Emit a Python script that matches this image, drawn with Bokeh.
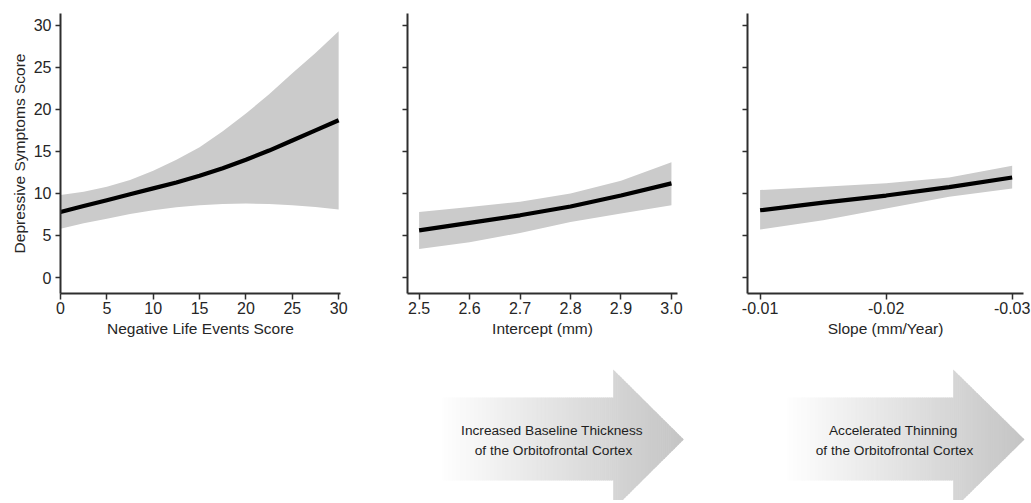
from bokeh.plotting import figure
from bokeh.layouts import column, row
from bokeh.models import Range1d, FixedTicker
from bokeh.core.properties import value
from bokeh.embed import file_html
from bokeh.resources import INLINE

# ---------------- data ----------------
life_x = [0, 2.5, 5, 7.5, 10, 12.5, 15, 17.5, 20, 22.5, 25, 27.5, 30]
life_fit = [7.8, 8.5, 9.2, 9.9, 10.6, 11.3, 12.1, 13.0, 14.0, 15.1, 16.3, 17.5, 18.7]
life_upper = [9.8, 10.2, 10.8, 11.6, 12.7, 14.0, 15.5, 17.4, 19.5, 21.8, 24.3, 26.7, 29.3]
life_lower = [5.8, 6.45, 7.0, 7.55, 8.0, 8.35, 8.6, 8.75, 8.8, 8.75, 8.6, 8.4, 8.1]

icpt_x = [2.5, 2.6, 2.7, 2.8, 2.9, 3.0]
icpt_fit = [5.6, 6.5, 7.4, 8.45, 9.75, 11.2]
icpt_upper = [7.8, 8.4, 9.0, 10.0, 11.5, 13.7]
icpt_lower = [3.4, 4.2, 5.3, 6.6, 7.6, 8.6]

slope_x = [-0.01, -0.015, -0.02, -0.025, -0.03]
slope_fit = [8.0, 8.9, 9.75, 10.75, 11.9]
slope_upper = [10.4, 10.8, 11.2, 11.9, 13.3]
slope_lower = [5.7, 6.8, 8.2, 9.6, 10.6]

y_ticks = [0, 5, 10, 15, 20, 25, 30]
life_ticks = [0, 5, 10, 15, 20, 25, 30]
icpt_ticks = [2.5, 2.6, 2.7, 2.8, 2.9, 3.0]
icpt_tick_labels = ["2.5", "2.6", "2.7", "2.8", "2.9", "3.0"]
slope_ticks = [-0.01, -0.02, -0.03]
slope_tick_labels = ["-0.01", "-0.02", "-0.03"]

y_label = "Depressive Symptoms Score"
x_labels = ["Negative Life Events Score", "Intercept (mm)", "Slope (mm/Year)"]
arrow_texts = [
    ["Increased Baseline Thickness", "of the Orbitofrontal Cortex"],
    ["Accelerated Thinning", "of the Orbitofrontal Cortex"],
]

# ---------------- styling ----------------
FONT = "Liberation Sans"
AX_COL = "#2e2e2e"
TXT_COL = "#262626"
BAND = "#cbcbcb"
Y_RANGE = (-1.9, 31.4)


def make_panel(xs, fit, up, lo, x_range, xticks, xlabels, xlabel, width,
               left, right, show_y):
    p = figure(width=width, height=348, output_backend="svg",
               toolbar_location=None, x_range=Range1d(*x_range),
               y_range=Range1d(*Y_RANGE), min_border_left=left,
               min_border_right=right, min_border_top=13, min_border_bottom=55)
    p.grid.visible = False
    p.outline_line_color = None
    p.background_fill_color = "white"
    p.border_fill_color = "white"

    p.varea(x=xs, y1=lo, y2=up, fill_color=BAND, fill_alpha=1.0)
    p.line(x=xs, y=fit, line_color="black", line_width=4.2)

    xa = p.xaxis[0]
    ya = p.yaxis[0]
    for ax in (xa, ya):
        ax.axis_line_width = 2
        ax.axis_line_color = AX_COL
        ax.major_tick_line_width = 1.5
        ax.major_tick_line_color = AX_COL
        ax.minor_tick_line_color = None
        ax.major_tick_in = 0
        ax.major_label_text_font = FONT
        ax.major_label_text_font_size = "16px"
        ax.major_label_text_color = TXT_COL
        ax.axis_label_text_font = FONT
        ax.axis_label_text_font_size = "15.5px"
        ax.axis_label_text_font_style = "normal"
        ax.axis_label_text_color = TXT_COL

    xa.ticker = FixedTicker(ticks=xticks)
    if xlabels is not None:
        xa.major_label_overrides = {t: l for t, l in zip(xticks, xlabels)}
    xa.major_tick_out = 6
    xa.major_label_standoff = 2
    xa.axis_label = xlabel
    xa.axis_label_standoff = 3

    ya.ticker = FixedTicker(ticks=y_ticks)
    ya.major_tick_out = 5
    if show_y:
        ya.major_label_standoff = 4
        ya.axis_label = y_label
        ya.axis_label_standoff = 3
    else:
        ya.major_label_text_font_size = "0px"
        ya.major_label_text_color = None
        ya.major_label_standoff = 0
    return p


p1 = make_panel(life_x, life_fit, life_upper, life_lower, (0, 30.2),
                life_ticks, None, x_labels[0], 365, 60, 25, True)
p2 = make_panel(icpt_x, icpt_fit, icpt_upper, icpt_lower, (2.477, 3.012),
                icpt_ticks, icpt_tick_labels, x_labels[1], 340, 42, 28, False)
p3 = make_panel(slope_x, slope_fit, slope_upper, slope_lower, (-0.009, -0.0309),
                slope_ticks, slope_tick_labels, x_labels[2], 326, 42, 8, False)

# ---------------- decorative arrows (page-pixel coordinates) ----------------
pa = figure(width=1031, height=152, output_backend="svg", toolbar_location=None,
            x_range=Range1d(0, 1031), y_range=Range1d(500, 348),
            x_axis_type=None, y_axis_type=None, min_border=0)
pa.grid.visible = False
pa.outline_line_color = None

ARROWS = [
    # x_body_start, x_head_start, x_tip, body_top, body_bot, tip_y, head_top, head_bot
    (441.7, 612.7, 683.3, 397, 480, 439, 369, 509),
    (786.7, 952.7, 1024.0, 397, 480, 439, 369, 509),
]
TEXT_POS = [((551.5, 430), (553, 450)), ((892.7, 430), (894, 450))]

xs_all, ys_all, cols = [], [], []
for (x0, xh, xt, bt, bb, yc, ht, hb) in ARROWS:
    def edges(x, head):
        if not head:
            return bt, bb
        f = min((x - xh) / (xt - xh), 1.0)
        return ht + f * (yc - ht), hb + f * (yc - hb)

    n_body, n_head = 86, 36
    segs = []
    for i in range(n_body):
        a = x0 + (xh - x0) * i / n_body
        b = x0 + (xh - x0) * (i + 1) / n_body
        segs.append((a, b, False))
    for i in range(n_head):
        a = xh + (xt - xh) * i / n_head
        b = xh + (xt - xh) * (i + 1) / n_head
        segs.append((a, b, True))
    for (a, b, head) in segs:
        bo = min(b + 0.6, xt) if head else b + 0.6
        ta, ba = edges(a, head)
        tb, bbb = edges(bo, head)
        xs_all.append([a, bo, bo, a])
        ys_all.append([ta, tb, bbb, ba])
        f = ((a + b) / 2 - x0) / (xt - x0)
        g = int(round(254 - (254 - 196) * f))
        cols.append("#%02x%02x%02x" % (g, g, g))

pa.patches(xs=xs_all, ys=ys_all, fill_color=cols, line_color=None)

tx, ty, tt = [], [], []
for lines, pos in zip(arrow_texts, TEXT_POS):
    for line, (x, y) in zip(lines, pos):
        tx.append(x)
        ty.append(y)
        tt.append(line)
pa.text(x=tx, y=ty, text=tt, text_font=value(FONT), text_font_size=value("13.7px"),
        text_align="center", text_baseline="middle", text_color="#1e1e1e")

layout = column(row(p1, p2, p3), pa)

open("out.html", "w").write(file_html(layout, INLINE))
